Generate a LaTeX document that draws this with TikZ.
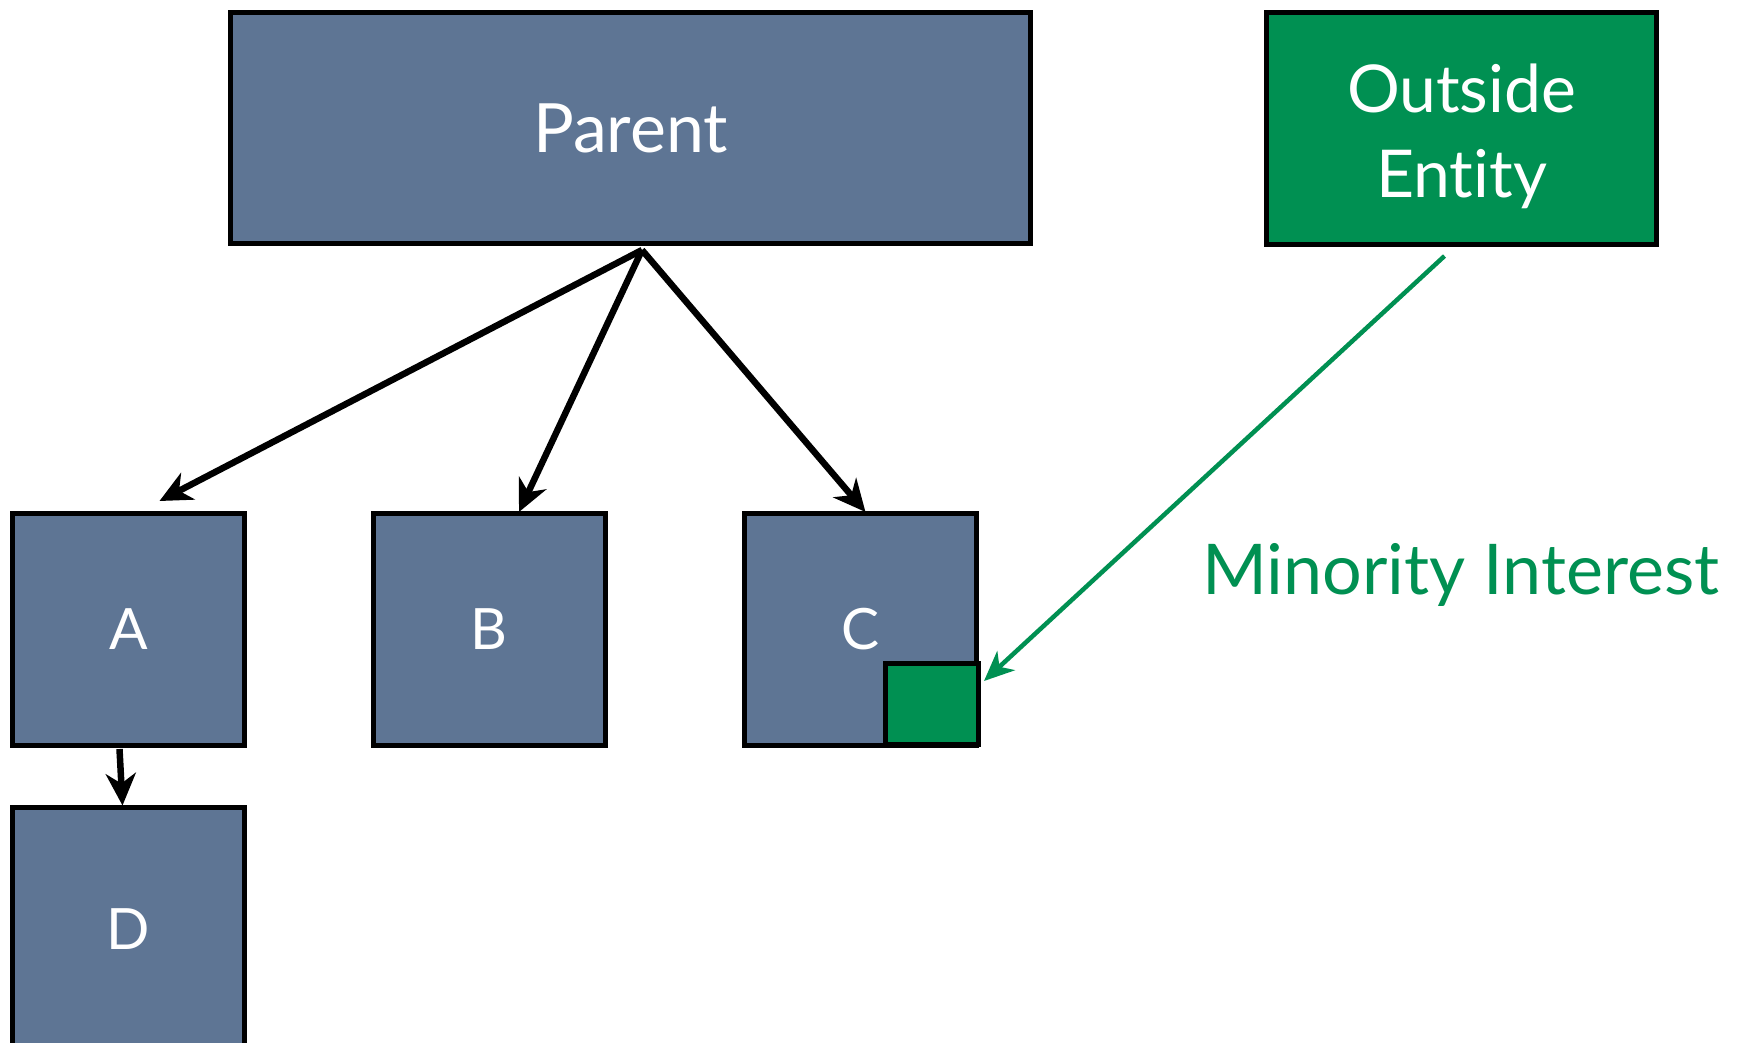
\documentclass[tikz,border=0pt]{standalone}
\usepackage{fontspec}
\setmainfont{Lato}[Ligatures=NoCommon]
\usetikzlibrary{arrows.meta}
\definecolor{slate}{RGB}{94,117,148}
\definecolor{mgreen}{RGB}{0,144,82}
\begin{document}
\begin{tikzpicture}[x=1pt,y=-1pt,
  box/.style={draw=black, line width=5pt, fill=slate, text=white, inner sep=0pt,
    minimum width=232pt, minimum height=232pt, font=\fontsize{57}{68}\selectfont},
  gbox/.style={draw=black, line width=5pt, fill=mgreen, text=white, inner sep=0pt},
  link/.style={draw=black, line width=6.5pt, -{Stealth[length=32pt,width=30pt,inset=10pt]}},
  glink/.style={draw=mgreen, line width=4.5pt, -{Stealth[length=30pt,width=26pt,inset=9pt]}}]
\useasboundingbox (0,0) rectangle (1746,1043);
\clip (0,0) rectangle (1746,1043);

% entities
\node[box, minimum width=800pt, minimum height=231pt, font=\fontsize{68}{80}\selectfont] (parent) at (630.5,128) {Parent};
\node[gbox, minimum width=390pt, minimum height=232pt] (outside) at (1461.5,128.5) {};
\node[text=white, align=center, inner sep=0pt, font=\fontsize{66}{85}\selectfont]
  (outsidelabel) at ([yshift=-8pt]outside.center) {Outside\\Entity};
\node[box] (A) at (128.5,629.5) {A};
\node[box] (B) at (489,629.5) {B};
\node[box] (C) at (860.5,629.5) {C};
\node[box, minimum height=245pt] (D) at (128.5,929.5) {D};
\node[gbox, minimum width=93pt, minimum height=81pt] (share) at (932,704) {};

\node[text=mgreen, anchor=base, font=\fontsize{70}{84}\selectfont] (minority) at (1461,594) {Minority Interest};

% ownership links
\coordinate (hub) at ([xshift=11.5pt,yshift=-4pt]parent.south);
\draw[link] (hub) -- ([xshift=31pt,yshift=10pt]A.north);
\draw[link] (hub) -- ([xshift=30pt,yshift=-1pt]B.north);
\draw[link] (hub) -- ([xshift=5pt,yshift=-1pt]C.north);
\draw[link] ([xshift=-9pt,yshift=-1pt]A.south) -- ([xshift=-6pt,yshift=-1pt]D.north);
\draw[glink] ([xshift=-17pt,yshift=-9pt]outside.south) -- ([xshift=3pt,yshift=23pt]share.east);
\end{tikzpicture}
\end{document}
